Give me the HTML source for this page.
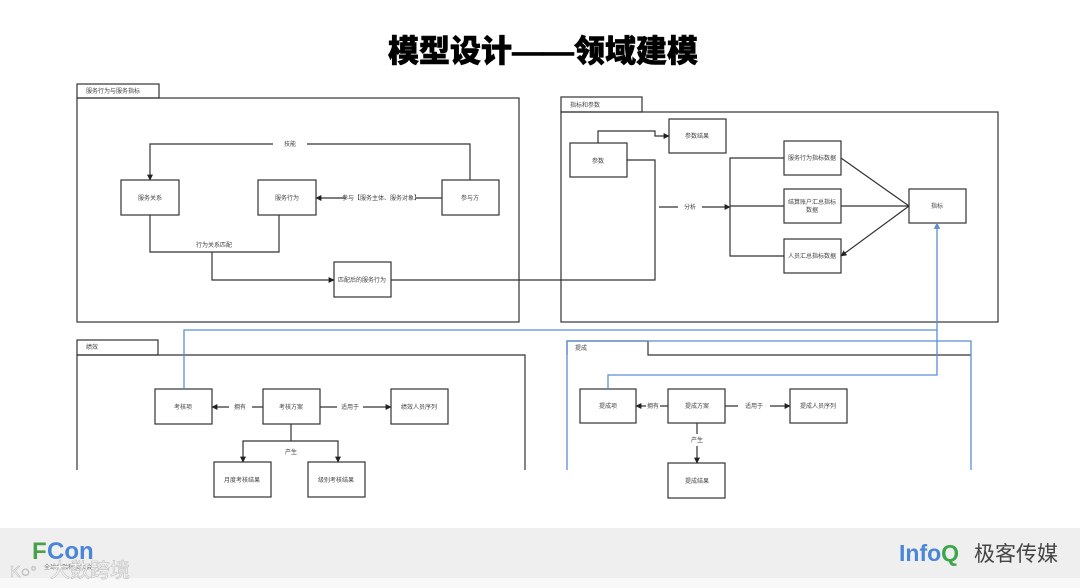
<!DOCTYPE html>
<html><head><meta charset="utf-8"><style>
html,body{margin:0;padding:0;background:#fff;width:1080px;height:588px;overflow:hidden}
svg{display:block}
text{font-family:"Liberation Sans","Noto Sans CJK SC",sans-serif}
</style></head><body>
<svg width="1080" height="588" viewBox="0 0 1080 588" xmlns="http://www.w3.org/2000/svg">
<defs>
<marker id="a" viewBox="0 0 10 10" refX="9" refY="5" markerWidth="5" markerHeight="5" orient="auto"><path d="M0,0L10,5L0,10z" fill="#222"/></marker>
<marker id="b" viewBox="0 0 10 10" refX="9" refY="5" markerWidth="5" markerHeight="5" orient="auto"><path d="M0,0L10,5L0,10z" fill="#5a8fd6"/></marker>
</defs>
<text x="543" y="62" font-size="31" font-weight="900" text-anchor="middle" fill="#000" stroke="#000" stroke-width="0.6" font-family="'Noto Sans CJK SC',sans-serif">模型设计——领域建模</text>

<g fill="none" stroke="#333" stroke-width="1.2">
<rect x="77" y="84" width="82" height="14"/>
<rect x="77" y="98" width="442" height="224"/>
<rect x="121" y="180" width="58" height="35"/>
<rect x="258" y="180" width="58" height="35"/>
<rect x="442" y="180" width="57" height="35"/>
<rect x="334" y="262" width="57" height="35"/>
<path d="M470,180V144H307M273,144H150V180" marker-end="url(#a)"/>
<path d="M442,198H416M346,198H316" marker-end="url(#a)"/>
<path d="M150,215V252H279V215"/>
<path d="M212,252V280H334" marker-end="url(#a)"/>
<path d="M391,280H655V160H627"/>
<rect x="561" y="97" width="81" height="15"/>
<rect x="561" y="112" width="437" height="210"/>
<rect x="570" y="143" width="57" height="34"/>
<rect x="669" y="119" width="57" height="34"/>
<rect x="784" y="141" width="57" height="34"/>
<rect x="784" y="189" width="57" height="34"/>
<rect x="784" y="239" width="57" height="34"/>
<rect x="909" y="189" width="57" height="34"/>
<path d="M598,143V131H655V136H669" marker-end="url(#a)"/>
<path d="M659,207H678M702,207H730" marker-end="url(#a)"/>
<path d="M784,158H730V256H784M730,206H784"/>
<path d="M909,206L841,158M909,206L841,206M909,206L841,256" marker-end="url(#a)"/>
<rect x="77" y="340" width="81" height="15"/>
<path d="M77,470V355H525V470"/>
<rect x="155" y="389" width="57" height="35"/>
<rect x="263" y="389" width="57" height="35"/>
<rect x="391" y="389" width="57" height="35"/>
<rect x="214" y="462" width="57" height="35"/>
<rect x="308" y="462" width="57" height="35"/>
<path d="M263,407H252M229,407H212" marker-end="url(#a)"/>
<path d="M320,407H337M363,407H391" marker-end="url(#a)"/>
<path d="M291,424V441"/>
<path d="M291,441H243V462" marker-end="url(#a)"/>
<path d="M291,441H338V462" marker-end="url(#a)"/>
<path d="M567,355V341H648V355H971"/>
<rect x="580" y="389" width="56" height="34"/>
<rect x="668" y="389" width="57" height="34"/>
<rect x="790" y="389" width="57" height="34"/>
<rect x="668" y="463" width="57" height="35"/>
<path d="M668,406H660M646,406H636" marker-end="url(#a)"/>
<path d="M725,406H738M770,406H790" marker-end="url(#a)"/>
<path d="M697,423V434M697,446V463" marker-end="url(#a)"/>
</g>
<g fill="none" stroke="#5a8fd6" stroke-width="1.3">
<path d="M184,389V330H937V223" marker-end="url(#b)"/>
<path d="M937,330V375H608V389"/>
<path d="M567,470V341H971V470"/>
</g>

<g font-size="6" fill="#444" text-anchor="middle">
<text x="86" y="93" text-anchor="start">服务行为与服务指标</text>
<text x="290" y="146">技能</text>
<text x="150" y="200">服务关系</text>
<text x="287" y="200">服务行为</text>
<text x="470" y="200">参与方</text>
<text x="381" y="200">参与【服务主体、服务对象】</text>
<text x="214" y="247">行为关系匹配</text>
<text x="362" y="282">匹配后的服务行为</text>
<text x="570" y="107" text-anchor="start">指标和参数</text>
<text x="598" y="163">参数</text>
<text x="697" y="138">参数结果</text>
<text x="690" y="209">分析</text>
<text x="812" y="160">服务行为指标数据</text>
<text x="812" y="204">结算账户汇总指标</text>
<text x="812" y="212">数据</text>
<text x="812" y="258">人员汇总指标数据</text>
<text x="937" y="208">指标</text>
<text x="86" y="349" text-anchor="start">绩效</text>
<text x="183" y="409">考核项</text>
<text x="240" y="409">拥有</text>
<text x="291" y="409">考核方案</text>
<text x="350" y="409">适用于</text>
<text x="419" y="409">绩效人员序列</text>
<text x="291" y="454">产生</text>
<text x="242" y="482">月度考核结果</text>
<text x="336" y="482">级别考核结果</text>
<text x="575" y="350" text-anchor="start">提成</text>
<text x="608" y="408">提成项</text>
<text x="653" y="408">拥有</text>
<text x="697" y="408">提成方案</text>
<text x="754" y="408">适用于</text>
<text x="818" y="408">提成人员序列</text>
<text x="697" y="442">产生</text>
<text x="697" y="483">提成结果</text>
</g>

<rect x="0" y="528" width="1080" height="50" fill="#efefef"/>
<rect x="0" y="578" width="1080" height="10" fill="#f8f8f8"/>
<text x="32" y="559" font-size="24" font-weight="bold" fill="#4aa04a">F</text>
<text x="47" y="559" font-size="24" font-weight="bold" fill="#4a86d8">Con</text>
<text x="44" y="569" font-size="6" fill="#777">全球金融科技大会</text>
<text x="50" y="577" font-size="20" fill="#fff" stroke="#bbb" stroke-width="0.6" font-family="'Noto Sans CJK SC',sans-serif">大数跨境</text>
<text x="10" y="577" font-size="16" fill="#fff" stroke="#bbb" stroke-width="0.6">K○°</text>
<text x="899" y="561" font-size="23" font-weight="bold" fill="#4a86d8">Info<tspan fill="#3aa84a">Q</tspan></text>
<text x="974" y="561" font-size="21" fill="#444" font-family="'Noto Sans CJK SC',sans-serif">极客传媒</text>
</svg>
</body></html>
